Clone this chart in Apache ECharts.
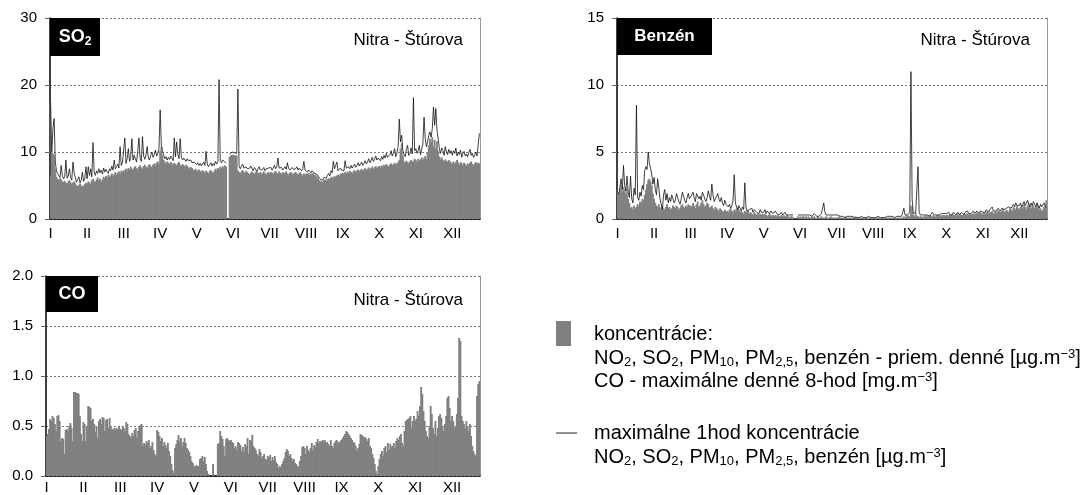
<!DOCTYPE html>
<html>
<head>
<meta charset="utf-8">
<script src="https://cdn.jsdelivr.net/npm/echarts@6/dist/echarts.min.js"></script>
<style>
html,body{margin:0;padding:0;background:#fff;}
#c{width:1091px;height:495px;}
</style>
</head>
<body>
<div id="c"></div>
<script>
// ---- data (daily values, 365 days; month ticks every 31 days) ----
const monthLabels = ['I','II','III','IV','V','VI','VII','VIII','IX','X','XI','XII'];
const so2Daily = [
 6.5,10,9.8,9.5,7.5,6.3,6.0,5.8,6.1,5.9,5.6,5.5,5.7,5.4,5.3,5.6,5.8,5.5,5.2,5.4,5.6,5.3,5.0,4.9,5.1,5.3,5.0,4.8,5.0,5.2,5.4,
 5.3,5.6,5.5,5.2,5.8,6.0,5.7,5.5,5.9,6.2,5.8,6.0,5.6,5.9,6.3,6.1,6.4,6.2,6.6,6.3,6.5,6.8,6.4,6.7,7.0,6.6,6.9,7.1,6.8,7.2,7.0,
 7.3,7.1,7.5,7.2,7.6,7.4,7.8,7.5,7.3,7.7,7.9,7.6,7.4,7.8,8.0,7.7,7.5,7.9,8.1,7.8,7.6,8.0,8.2,7.9,7.7,8.1,8.3,8.0,8.4,8.6,8.2,
 10.2,10.8,9.5,8.8,8.5,8.3,8.6,8.4,8.2,8.5,8.3,8.1,8.4,8.2,8.0,8.3,8.5,8.1,7.9,8.2,8.0,7.8,8.1,7.9,7.7,7.5,7.8,7.6,7.4,7.2,7.5,
 7.3,7.1,7.4,7.2,7.0,7.3,7.1,6.9,7.2,7.0,6.8,7.1,7.3,7.0,6.8,7.2,7.5,7.3,7.6,7.4,7.8,7.6,7.9,7.7,8.0,7.8,null,null,9.3,9.5,9.6,
 9.5,9.6,9.4,9.5,7.2,7.0,6.8,7.1,7.3,7.0,6.9,7.2,7.0,6.8,6.7,6.9,7.1,6.9,6.7,7.0,7.2,6.9,6.8,7.0,6.7,6.9,7.1,6.8,6.6,6.9,7.0,
 6.8,7.0,6.9,6.7,7.0,7.2,6.9,6.8,7.1,6.9,6.7,7.0,6.8,6.9,7.1,6.8,6.6,6.9,7.0,6.8,6.7,6.9,7.0,6.8,6.6,6.8,7.0,6.7,6.5,6.8,6.6,
 6.8,6.7,6.9,6.6,6.8,6.7,6.9,6.5,6.6,6.4,6.2,5.8,5.6,5.7,5.5,5.8,5.9,5.7,6.0,6.1,5.9,6.2,6.3,6.1,6.4,6.3,6.5,6.6,6.4,6.7,6.8,
 6.9,6.7,7.0,6.8,7.1,6.9,7.2,7.0,6.8,7.1,7.3,7.0,7.2,7.4,7.1,7.3,7.5,7.2,7.4,7.6,7.3,7.5,7.7,7.4,7.6,7.8,7.5,7.7,7.9,7.6,7.8,
 7.9,7.7,8.0,7.8,8.1,7.9,8.2,8.0,7.8,8.1,8.3,8.0,8.2,8.4,8.1,8.3,8.5,8.8,10.5,11.3,9.5,8.6,8.4,8.7,8.5,8.3,8.6,8.8,8.5,8.7,9.0,
 8.8,8.5,9.0,8.7,8.9,9.2,8.8,9.1,9.4,9.0,10.0,11.0,12.0,11.5,12.2,10.8,11.8,10.5,11.6,10.2,9.3,8.9,9.2,8.8,8.6,8.9,8.7,8.5,8.8,8.6,8.4,
 8.3,8.6,8.2,8.5,8.8,8.4,8.1,8.5,8.3,8.0,8.4,8.2,7.9,8.3,8.1,8.4,8.6,8.2,8.0,8.3,8.5,8.2,8.4,8.3
];
const so2Max1h = [
 17.5,10,13.5,15,8.5,7.2,6.8,6.5,6.2,8.0,6.5,6.0,6.3,8.8,6.1,6.4,7.5,6.2,5.8,8.5,6.9,6.2,5.5,5.9,6.3,5.4,5.8,7.0,5.6,6.0,7.8,
 6.0,7.8,6.5,7.5,6.3,11.4,7.0,6.5,7.2,6.8,7.5,6.9,7.3,6.7,7.6,7.0,7.4,7.1,6.8,7.5,7.2,7.9,7.3,8.8,7.5,7.8,8.2,7.6,10.8,8.0,8.4,
 8.5,12.1,8.3,9.0,10.5,8.6,9.2,12.0,8.8,9.5,9.0,8.5,10.2,12.1,9.0,8.6,12.3,9.4,8.9,9.6,10.8,9.1,8.8,9.5,10.0,9.2,9.6,10.3,9.4,9.8,10.5,
 16.3,11.0,10.2,9.5,9.0,9.3,8.8,9.2,8.9,9.4,9.1,8.7,12.1,9.3,11.5,9.6,9.0,12.0,9.2,8.8,9.1,8.9,8.6,9.0,8.7,8.5,8.8,8.4,8.2,8.5,8.3,
 8.1,8.4,8.0,8.3,7.9,8.2,8.5,8.0,10.1,8.2,7.8,8.1,8.4,7.9,8.3,8.0,8.6,8.2,8.5,20.8,8.7,8.4,8.8,9.0,8.5,8.3,null,null,9.7,9.9,10.0,
 9.8,9.9,10.0,9.8,19.4,7.8,7.5,7.9,8.2,7.6,7.4,7.8,7.5,7.3,7.6,7.9,7.5,7.2,7.7,7.4,7.1,7.5,7.8,7.3,7.1,7.4,7.7,7.2,7.5,7.3,7.6,
 7.4,7.7,7.3,7.6,8.0,7.5,7.8,9.1,7.6,7.4,7.7,7.3,7.5,7.8,7.4,8.4,7.6,7.3,7.5,7.7,7.4,7.2,7.5,7.8,7.3,7.6,7.4,7.2,7.5,8.6,7.3,
 7.2,7.0,7.3,7.1,6.9,7.2,7.0,6.8,6.9,6.7,6.5,6.2,5.9,6.1,5.8,6.2,6.4,6.1,6.5,6.8,6.4,7.2,6.9,8.6,7.5,8.0,8.5,7.2,7.0,7.6,7.3,
 7.5,7.2,8.7,7.6,7.4,7.8,7.5,8.0,7.6,7.9,8.2,7.7,8.0,8.4,7.9,8.1,8.5,8.0,8.3,8.7,8.2,8.5,9.0,8.4,8.7,9.2,8.6,8.9,9.4,8.8,9.1,
 9.0,8.7,9.3,8.9,9.5,9.1,9.8,9.2,9.0,9.6,10.2,9.4,9.8,10.5,9.3,9.9,10.8,14.9,11.5,12.5,10.2,9.6,9.3,10.4,11.0,9.5,9.8,10.6,9.7,18.1,10.2,
 10.5,9.8,10.2,11.0,9.6,10.4,11.2,15.2,12.0,10.8,11.5,12.5,13.0,12.2,13.5,16.7,14.0,16.5,13.2,12.0,10.5,9.8,10.6,10.2,9.5,10.8,10.0,9.6,10.4,9.8,10.2,
 9.5,10.2,9.8,10.6,9.4,10.0,9.6,10.3,9.2,9.8,10.1,9.4,9.7,9.3,9.9,10.4,9.5,9.8,9.2,9.6,10.0,9.4,11.2,12.8
];
const benzDaily = [
 2.0,1.8,2.3,2.5,2.1,2.4,2.2,1.9,2.3,1.5,1.2,0.8,0.9,0.7,1.0,0.8,0.9,1.1,1.0,1.3,1.2,1.5,1.4,1.8,2.2,2.6,2.9,3.0,2.8,2.5,1.9,
 1.5,1.2,1.0,0.9,1.1,0.8,0.9,1.0,0.8,0.7,0.9,1.1,0.8,0.9,0.7,0.8,1.0,0.9,0.8,1.0,0.9,0.7,0.8,1.0,1.1,0.9,0.8,1.0,0.9,1.1,1.0,
 1.0,0.9,1.2,1.0,0.8,1.1,1.3,0.9,1.0,1.2,1.4,1.1,0.9,1.0,1.2,1.1,0.8,0.9,1.0,0.8,0.7,0.9,0.8,0.7,0.6,0.8,0.7,0.6,0.5,0.7,0.6,
 0.6,0.5,0.7,0.8,0.6,0.5,0.7,0.6,0.8,0.9,0.7,0.5,0.6,0.5,0.4,0.6,0.5,0.7,0.6,0.4,0.5,0.4,0.3,0.5,0.4,0.3,0.4,0.3,0.4,0.3,0.4,
 0.3,0.4,0.3,0.2,0.3,0.4,0.3,0.2,0.3,0.2,0.3,0.2,0.3,0.2,0.2,0.3,0.2,0.3,0.2,0.2,0.3,0.2,0.1,0.2,0.2,0.1,null,null,null,0.2,0.1,
 0.2,0.1,0.2,0.2,0.1,0.2,0.1,0.2,0.1,0.1,0.2,0.1,0.2,0.1,0.1,0.2,0.1,0.1,0.2,0.1,0.1,0.1,0.2,0.1,0.1,0.1,0.2,0.1,0.1,0.1,0.1,
 0.1,0.1,0.2,0.1,0.1,0.1,0.1,0.1,0.2,0.1,0.1,0.1,0.1,0.1,0.1,0.1,0.2,0.1,0.1,0.1,0.1,0.1,0.1,0.1,0.1,0.1,0.1,0.1,0.1,0.1,0.1,
 0.1,0.1,0.1,0.1,0.1,0.1,0.1,0.1,0.1,0.1,0.1,0.1,0.1,0.1,0.1,0.1,0.1,0.1,0.1,0.1,0.1,0.1,0.1,0.1,0.1,0.1,0.2,0.1,0.2,0.3,0.2,
 0.2,1.0,0.9,0.3,0.2,0.5,0.2,0.2,0.1,0.2,0.2,0.1,0.2,0.2,0.3,0.2,0.2,0.3,0.2,0.2,0.3,0.2,0.2,0.3,0.3,0.2,0.3,0.2,0.3,0.3,0.2,
 0.3,0.3,0.2,0.3,0.3,0.4,0.3,0.3,0.3,0.4,0.3,0.3,0.4,0.3,0.3,0.4,0.3,0.4,0.4,0.3,0.4,0.3,0.4,0.4,0.3,0.4,0.5,0.4,0.4,0.5,0.4,
 0.4,0.5,0.4,0.5,0.6,0.4,0.5,0.5,0.6,0.4,0.5,0.6,0.5,0.7,0.6,0.5,0.6,0.8,0.6,0.5,0.7,0.6,0.5,0.8,0.7,0.6,0.9,0.8,0.7,1.0,0.8,
 0.7,0.9,1.0,0.8,1.1,0.9,0.7,1.0,1.2,0.9,0.8,1.1,1.0,0.8,0.9,1.2,1.0,0.7,0.8,0.6,0.7,0.9,1.1,1.4
];
const benzMax1h = [
 2.0,1.8,2.4,3.0,2.2,4.0,2.5,2.1,3.2,2.0,1.6,3.2,1.5,1.2,2.3,1.8,8.5,1.6,1.4,2.0,1.7,2.5,2.2,3.6,3.9,3.7,5.0,4.1,3.8,3.3,2.6,
 3.1,2.2,1.8,3.0,2.3,1.5,1.1,0.7,1.8,2.2,1.4,1.9,1.2,1.6,1.3,1.8,1.5,1.2,1.4,1.9,1.6,1.3,1.1,1.5,2.0,1.7,1.4,1.2,1.6,1.9,1.5,
 1.4,1.8,2.0,1.6,1.3,1.9,2.0,1.5,1.7,1.4,2.0,1.8,1.5,1.3,1.6,2.1,1.7,1.4,2.6,1.8,1.3,1.5,1.5,1.9,1.5,1.3,1.6,1.2,1.0,1.4,1.1,
 1.2,0.9,1.1,0.8,1.0,1.4,3.3,1.2,0.9,0.7,1.0,0.8,0.6,0.9,0.7,2.7,0.8,0.6,0.5,0.7,0.6,0.8,0.5,0.7,0.6,0.5,0.6,0.4,0.7,0.5,0.6,
 0.5,0.7,0.4,0.6,0.5,0.4,0.6,0.5,0.4,0.5,0.6,0.4,0.5,0.3,0.4,0.5,0.3,0.4,0.5,0.3,0.4,0.3,0.2,0.3,0.4,0.3,null,null,null,0.3,0.4,
 0.3,0.4,0.3,0.2,0.3,0.4,0.3,0.2,0.3,0.3,0.2,0.3,0.4,0.3,0.2,0.3,0.2,0.3,0.4,0.3,1.2,0.5,0.3,0.4,0.3,0.2,0.3,0.4,0.3,0.2,0.3,
 0.2,0.3,0.2,0.2,0.3,0.2,0.2,0.1,0.2,0.2,0.1,0.2,0.1,0.2,0.1,0.1,0.2,0.1,0.2,0.1,0.1,0.2,0.1,0.1,0.2,0.1,0.1,0.2,0.1,0.1,0.2,
 0.1,0.2,0.1,0.1,0.2,0.1,0.1,0.2,0.1,0.2,0.1,0.1,0.2,0.1,0.2,0.1,0.2,0.2,0.1,0.2,0.2,0.1,0.2,0.3,0.2,0.3,0.8,0.3,0.2,0.3,0.4,
 0.5,11.0,1.5,0.4,0.3,0.5,0.4,3.9,0.5,0.3,0.2,0.3,0.2,0.3,0.2,0.3,0.4,0.2,0.3,0.5,0.4,0.3,0.2,0.3,0.4,0.3,0.2,0.4,0.3,0.4,0.3,
 0.4,0.3,0.5,0.3,0.4,0.3,0.5,0.4,0.3,0.4,0.5,0.3,0.4,0.5,0.4,0.3,0.5,0.4,0.6,0.4,0.5,0.4,0.5,0.6,0.4,0.5,0.6,0.5,0.4,0.6,0.5,
 0.5,0.6,0.5,0.7,0.6,0.5,0.7,0.6,0.9,0.6,0.7,0.6,0.5,0.8,0.7,0.6,0.8,0.9,0.7,0.6,0.8,0.7,0.9,1.0,0.8,0.7,1.1,0.9,1.2,1.0,0.9,
 1.0,1.2,0.9,1.1,1.3,1.0,1.2,1.4,1.1,0.9,1.2,1.0,1.3,1.1,0.9,1.2,1.0,0.8,1.1,0.9,1.0,1.2,1.3,0.8
];
const coMax8h = [
 0.40,0.42,0.47,0.57,0.55,0.60,0.58,0.52,0.45,0.60,0.61,0.55,0.35,0.38,0.37,0.22,0.46,0.47,0.45,0.50,0.53,0.48,0.35,0.84,0.84,0.83,0.83,0.82,0.60,0.42,0.35,
 0.54,0.52,0.35,0.50,0.70,0.69,0.68,0.55,0.57,0.52,0.44,0.50,0.38,0.55,0.57,0.52,0.59,0.58,0.45,0.56,0.57,0.48,0.58,0.50,0.47,0.46,0.48,0.47,0.48,0.46,0.49,
 0.47,0.46,0.50,0.48,0.45,0.54,0.52,0.42,0.40,0.38,0.43,0.40,0.46,0.48,0.38,0.45,0.50,0.51,0.52,0.30,0.33,0.31,0.35,0.33,0.36,0.28,0.30,0.34,0.26,0.22,0.20,
 0.46,0.44,0.40,0.35,0.38,0.30,0.34,0.31,0.28,0.33,0.25,0.20,0.12,0.06,0.03,0.28,0.32,0.36,0.41,0.35,0.38,0.30,0.34,0.38,0.33,0.28,0.26,0.24,0.20,0.15,0.13,
 0.10,0.09,0.11,0.10,0.10,0.17,0.18,0.20,0.15,0.19,0.12,0.05,0.02,null,null,null,0.12,null,null,null,0.32,0.33,0.45,0.40,0.37,0.30,0.20,0.37,0.38,0.36,0.35,
 0.36,0.34,0.33,0.28,0.30,0.26,0.34,0.33,0.31,0.25,0.29,0.24,0.32,0.30,0.38,0.22,0.36,0.35,0.41,0.30,0.28,0.26,0.22,0.20,0.27,0.24,0.18,0.20,0.22,0.17,0.16,
 0.20,0.18,0.21,0.15,0.19,0.16,0.20,0.14,0.12,0.08,0.10,0.09,0.12,0.15,0.18,0.24,0.27,0.25,0.20,0.22,0.18,0.15,0.17,0.13,0.12,0.10,0.09,0.15,0.20,0.29,0.30,
 0.28,0.22,0.30,0.26,0.24,0.28,0.33,0.26,0.31,0.29,0.34,0.37,0.33,0.35,0.34,0.36,0.35,0.36,0.33,0.34,0.32,0.30,0.36,0.30,0.28,0.33,0.35,0.36,0.34,0.33,0.35,
 0.36,0.38,0.40,0.42,0.45,0.44,0.42,0.40,0.38,0.36,0.34,0.33,0.30,0.25,0.28,0.32,0.42,0.41,0.40,0.38,0.39,0.37,0.35,0.38,0.30,0.28,0.22,0.18,0.12,0.05,0.02,
 0.10,0.17,0.22,0.25,0.20,0.28,0.30,0.24,0.33,0.26,0.32,0.29,0.30,0.33,0.28,0.35,0.38,0.36,0.40,0.42,0.33,0.30,0.45,0.55,0.56,0.57,0.58,0.60,0.48,0.55,0.60,
 0.55,0.57,0.65,0.60,0.70,0.89,0.82,0.65,0.55,0.45,0.40,0.38,0.50,0.70,0.62,0.48,0.42,0.55,0.40,0.48,0.60,0.62,0.58,0.50,0.45,0.52,0.60,0.78,0.80,0.68,0.55,
 0.60,0.55,0.48,0.50,0.62,0.78,1.38,1.35,0.60,0.55,0.52,0.48,0.55,0.50,0.45,0.52,0.40,0.30,0.25,0.22,0.20,0.80,0.92,0.95
];
const days = so2Daily.map((_, i) => String(i + 1));
const stationName = 'Nitra - Štúrova';

// ---- chart ----
const FONT = '"Liberation Sans", Arial, sans-serif';
const chart = echarts.init(document.getElementById('c'), null, {renderer: 'canvas'});

const grids = [
  {left: 50, top: 18, width: 430, height: 201},
  {left: 617, top: 18, width: 430, height: 201},
  {left: 46, top: 276, width: 434, height: 200}
];
const yCfg = [
  {max: 30, interval: 10, fmt: v => String(v)},
  {max: 15, interval: 5, fmt: v => String(v)},
  {max: 2, interval: 0.5, fmt: v => v.toFixed(1)}
];

function xAxisFor(g, labelMargin) {
  return {
    type: 'category', gridIndex: g, data: days, boundaryGap: true,
    axisLine: {lineStyle: {color: '#000', width: 1.5}},
    axisTick: {interval: 30, inside: true, length: 5, lineStyle: {color: '#444', width: 1}},
    axisLabel: {interval: 30, margin: labelMargin, color: '#000', fontFamily: FONT, fontSize: 15,
      formatter: (v, i) => monthLabels[Math.round(i / 31)] || ''},
    splitLine: {show: false}
  };
}
function yAxisFor(g) {
  const c = yCfg[g];
  return {
    type: 'value', gridIndex: g, min: 0, max: c.max, interval: c.interval,
    axisLine: {show: true, lineStyle: {color: '#000', width: 1.5}},
    axisTick: {show: true, length: 5, lineStyle: {color: '#666'}},
    axisLabel: {margin: 13, color: '#000', fontFamily: FONT, fontSize: 15, formatter: c.fmt},
    splitLine: {show: true, lineStyle: {color: '#777', type: [2, 2], width: 1}}
  };
}
function rightBorder(g) {
  return {
    type: 'value', gridIndex: g, position: 'right', min: 0, max: 1,
    axisLine: {show: true, onZero: false, lineStyle: {color: '#999', width: 1}},
    axisTick: {show: false}, axisLabel: {show: false}, splitLine: {show: false}
  };
}

const barStyle = {color: '#808080'};
const lineStyle = {color: '#111', width: 0.8, shadowColor: 'rgba(255,255,255,0.9)', shadowBlur: 2};

function sub(t){return '{sub|' + t + '}';}
function sup(t){return '{sup|' + t + '}';}
const legendRich = {
  sub: {fontSize: 13, fontFamily: FONT, fill: '#000', lineHeight: 12, verticalAlign: 'bottom'},
  sup: {fontSize: 13, fontFamily: FONT, fill: '#000', lineHeight: 10, verticalAlign: 'top'}
};
function txt(text, x, y, size, opts) {
  opts = opts || {};
  return {
    type: 'text', x: x, y: y, z: 100,
    style: Object.assign({
      text: text, fontFamily: FONT, fontSize: size, fill: '#000',
      align: 'left', verticalAlign: 'middle', lineHeight: 21, rich: legendRich
    }, opts)
  };
}
function labelBox(x, y, w, h, text, size) {
  return [
    {type: 'rect', z: 50, shape: {x: x, y: y, width: w, height: h}, style: {fill: '#000'}},
    {type: 'text', z: 51, x: x + w / 2, y: y + h / 2, style: {
      text: text, fontFamily: FONT, fontSize: size, fontWeight: 'bold', fill: '#fff',
      align: 'center', verticalAlign: 'middle', lineHeight: 22,
      rich: {
        b: {fontSize: size, fontWeight: 'bold', fontFamily: FONT, fill: '#fff', lineHeight: 22},
        s: {fontSize: 12, fontWeight: 'bold', fontFamily: FONT, fill: '#fff', lineHeight: 12, verticalAlign: 'bottom'}
      }
    }}
  ];
}

const LX = 594;
const graphics = [].concat(
  labelBox(50, 18, 50, 38, '{b|SO}{s|2}', 18),
  labelBox(617, 18, 95, 37, '{b|Benzén}', 17),
  labelBox(46, 276, 52, 36, '{b|CO}', 18),
  [
    txt(stationName, 463, 40, 17, {align: 'right'}),
    txt(stationName, 1030, 40, 17, {align: 'right'}),
    txt(stationName, 463, 300, 17, {align: 'right'}),
    {type: 'rect', z: 100, shape: {x: 556, y: 321, width: 15, height: 25}, style: {fill: '#808080'}},
    txt('koncentrácie:', LX, 334, 20),
    txt('NO' + sub('2') + ', SO' + sub('2') + ', PM' + sub('10') + ', PM' + sub('2,5') + ', benzén - priem. denné [µg.m' + sup('−3') + ']', LX, 358, 20),
    txt('CO - maximálne denné 8-hod [mg.m' + sup('−3') + ']', LX, 381, 20),
    {type: 'line', z: 100, shape: {x1: 556, y1: 433, x2: 577, y2: 433}, style: {stroke: '#222', lineWidth: 1}},
    txt('maximálne 1hod koncentrácie', LX, 433, 20),
    txt('NO' + sub('2') + ', SO' + sub('2') + ', PM' + sub('10') + ', PM' + sub('2,5') + ', benzén [µg.m' + sup('−3') + ']', LX, 457, 20)
  ]
);
const lens = [so2Daily, so2Max1h, benzDaily, benzMax1h, coMax8h].map(a => a.length);
if (lens.some(l => l !== 365)) graphics.push(txt('LEN ' + lens.join(','), 600, 250, 14, {fill: 'red'}));

chart.setOption({
  animation: false,
  backgroundColor: '#fff',
  grid: grids,
  xAxis: [xAxisFor(0, 7), xAxisFor(1, 7), xAxisFor(2, 4)],
  yAxis: [yAxisFor(0), yAxisFor(1), yAxisFor(2), rightBorder(0), rightBorder(1), rightBorder(2)],
  series: [
    {type: 'bar', xAxisIndex: 0, yAxisIndex: 0, data: so2Daily, barWidth: 1.9, itemStyle: barStyle},
    {type: 'line', xAxisIndex: 0, yAxisIndex: 0, data: so2Max1h, symbol: 'none', lineStyle: lineStyle, z: 5},
    {type: 'bar', xAxisIndex: 1, yAxisIndex: 1, data: benzDaily, barWidth: 1.9, itemStyle: barStyle},
    {type: 'line', xAxisIndex: 1, yAxisIndex: 1, data: benzMax1h, symbol: 'none', lineStyle: lineStyle, z: 5},
    {type: 'bar', xAxisIndex: 2, yAxisIndex: 2, data: coMax8h, barWidth: 1.9, itemStyle: barStyle}
  ],
  graphic: graphics
});
</script>
</body>
</html>
